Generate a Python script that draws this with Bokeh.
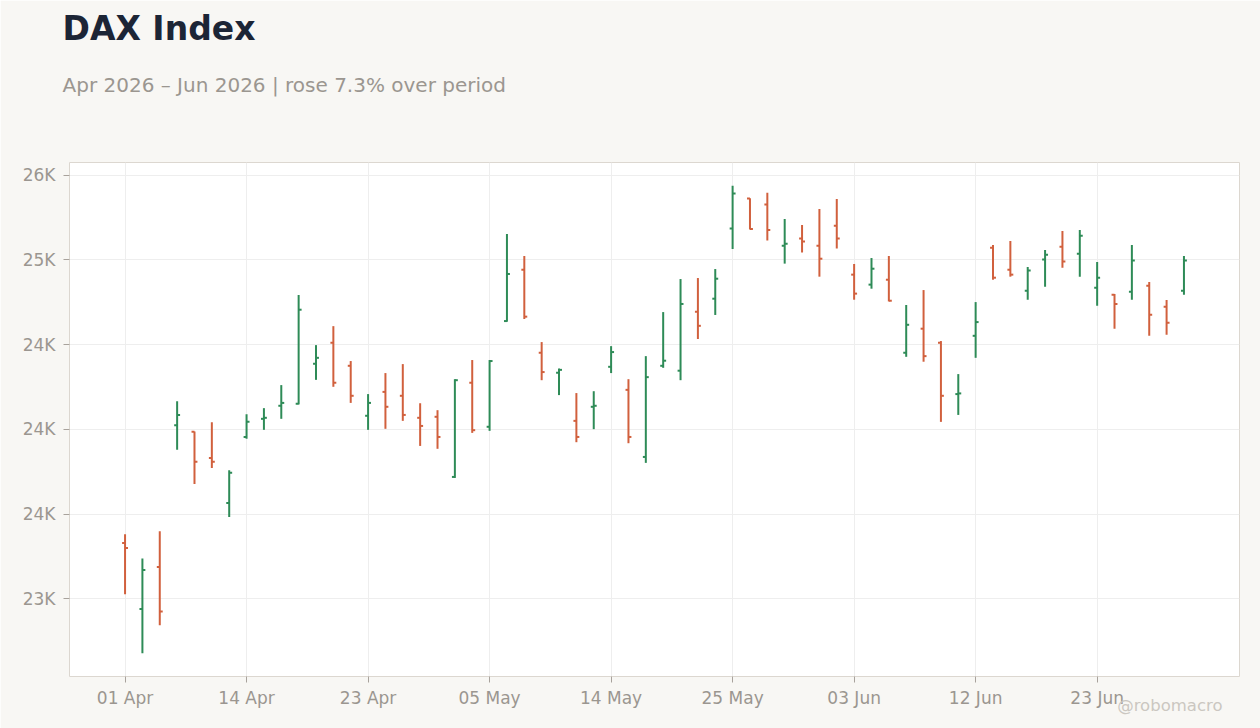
import pandas as pd
from bokeh.plotting import figure
from bokeh.models import ColumnDataSource, Range1d, FixedTicker, Title
from bokeh.embed import file_html
from bokeh.resources import INLINE

# ---- data ----
holidays = ["2026-04-03", "2026-04-06", "2026-05-01"]
dates = pd.bdate_range("2026-04-01", "2026-06-30", freq="C", holidays=holidays)

opens = [23329, 22939, 23187, 24024, 23985, 23831, 23565, 23955, 24062, 24139,
         24151, 24387, 24511, 24375, 24080, 24221, 24198, 24068, 24074, 23719,
         24275, 24015, 24639, 24942, 24452, 24334, 24050, 24133, 24369, 24233,
         23837, 24375, 24346, 24694, 24771, 25185, 25362, 25327, 25084, 25126,
         25084, 25202, 24913, 24854, 24883, 24452, 24594, 24511, 24208, 24552,
         25072, 24942, 24818, 25002, 25078, 25037, 24836, 24795, 24812, 24848,
         24724, 24818]
highs = [23380, 23238, 23398, 24166, 23987, 24042, 23758, 24089, 24125, 24261,
         24793, 24497, 24609, 24403, 24208, 24332, 24385, 24154, 24113, 24296,
         24409, 24409, 25153, 25023, 24515, 24359, 24214, 24225, 24491, 24296,
         24432, 24692, 24887, 24893, 24946, 25437, 25364, 25396, 25242, 25206,
         25301, 25360, 24976, 25011, 25023, 24734, 24822, 24521, 24326, 24751,
         25088, 25112, 24958, 25059, 25171, 25177, 24988, 24799, 25088, 24870,
         24763, 25023]
lows = [23026, 22679, 22844, 23879, 23678, 23772, 23483, 23944, 23997, 24062,
        24147, 24292, 24251, 24156, 23997, 24003, 24050, 23902, 23885, 23713,
        23979, 23991, 24635, 24651, 24290, 24202, 23924, 24001, 24332, 23918,
        23802, 24363, 24290, 24533, 24675, 25065, 25180, 25114, 24978, 25043,
        24901, 25067, 24765, 24830, 24755, 24428, 24399, 24044, 24085, 24422,
        24883, 24901, 24765, 24842, 24954, 24901, 24730, 24594, 24765, 24552,
        24558, 24795]
closes = [23299, 23169, 22925, 24084, 23808, 23808, 23743, 24044, 24068, 24156,
          24706, 24422, 24275, 24198, 24156, 24133, 24085, 24020, 23955, 24290,
          23995, 24403, 24917, 24665, 24338, 24351, 23955, 24139, 24456, 23955,
          24308, 24405, 24740, 24611, 24889, 25392, 25183, 25177, 25096, 25108,
          25007, 25126, 24801, 24948, 24759, 24617, 24432, 24198, 24212, 24633,
          24895, 24913, 24937, 25031, 24990, 25143, 24895, 24740, 24996, 24676,
          24629, 24996]

y_ticks = [23000, 23500, 24000, 24500, 25000, 25500]
y_tick_labels = ["23K", "24K", "24K", "24K", "25K", "26K"]
x_tick_step = 7

TITLE = "DAX Index"
SUBTITLE = "Apr 2026 \u2013 Jun 2026 | rose 7.3% over period"
WATERMARK = "@robomacro"

UP = "#2e8b57"
DOWN = "#d1603d"
BG = "#f8f7f4"
TXT = "#9b9690"

n = len(opens)
xs = list(range(n))
tick_len = 0.17
colors = [UP if c >= o else DOWN for o, c in zip(opens, closes)]
src = ColumnDataSource(dict(
    x=xs, xl=[x - tick_len for x in xs], xr=[x + tick_len for x in xs],
    open=opens, high=highs, low=lows, close=closes, color=colors))

lo, hi = min(lows), max(highs)
pad = 0.05 * (hi - lo)

p = figure(width=1260, height=728, output_backend="svg", toolbar_location=None,
           x_range=Range1d(-3.2, n - 1 + 3.2), y_range=Range1d(lo - pad, hi + pad),
           min_border_left=69, min_border_right=21, min_border_top=162, min_border_bottom=52)
p.background_fill_color = "white"
p.border_fill_color = BG
p.outline_line_color = "#dcd7d0"
p.outline_line_width = 1

p.segment(x0="x", y0="low", x1="x", y1="high", color="color", line_width=2, source=src)
p.segment(x0="xl", y0="open", x1="x", y1="open", color="color", line_width=2, source=src)
p.segment(x0="x", y0="close", x1="xr", y1="close", color="color", line_width=2, source=src)

xt = list(range(0, n, x_tick_step))
p.xaxis.ticker = FixedTicker(ticks=xt)
p.xaxis.major_label_overrides = {t: dates[t].strftime("%d %b") for t in xt}
p.yaxis.ticker = FixedTicker(ticks=y_ticks)
p.yaxis.major_label_overrides = dict(zip(y_ticks, y_tick_labels))

for ax in (p.xaxis, p.yaxis):
    ax.axis_line_color = None
    ax.major_tick_line_color = "#a8a29c"
    ax.major_tick_out = 6
    ax.major_tick_in = 0
    ax.minor_tick_line_color = None
    ax.major_label_text_color = TXT
    ax.major_label_text_font = "DejaVu Sans"
    ax.major_label_text_font_size = "17px"
p.yaxis.major_label_standoff = 8
p.xaxis.major_label_standoff = 5

p.xgrid.grid_line_color = "#eeeeee"
p.ygrid.grid_line_color = "#eeeeee"

# blank spacer (closest to frame), then subtitle, then title at the top
p.add_layout(Title(text=" ", text_font="DejaVu Sans", text_font_size="20px",
                   text_color=BG, standoff=18), "above")
p.add_layout(Title(text=SUBTITLE, text_font="DejaVu Sans", text_font_style="normal",
                   text_font_size="20px", text_color=TXT, align="left",
                   offset=-7, standoff=43), "above")
p.add_layout(Title(text=TITLE, text_font="DejaVu Sans", text_font_style="bold",
                   text_font_size="33px", text_color="#1c2536", align="left",
                   offset=-7, standoff=4), "above")
p.add_layout(Title(text=WATERMARK, text_font="DejaVu Sans", text_font_style="normal",
                   text_font_size="16.5px", text_color="#cbc7c1", align="right",
                   vertical_align="top", offset=17, standoff=-30), "below")

html = file_html(p, INLINE)
html = html.replace("<body>", '<body style="background:%s">' % BG, 1)
open("out.html", "w").write(html)
